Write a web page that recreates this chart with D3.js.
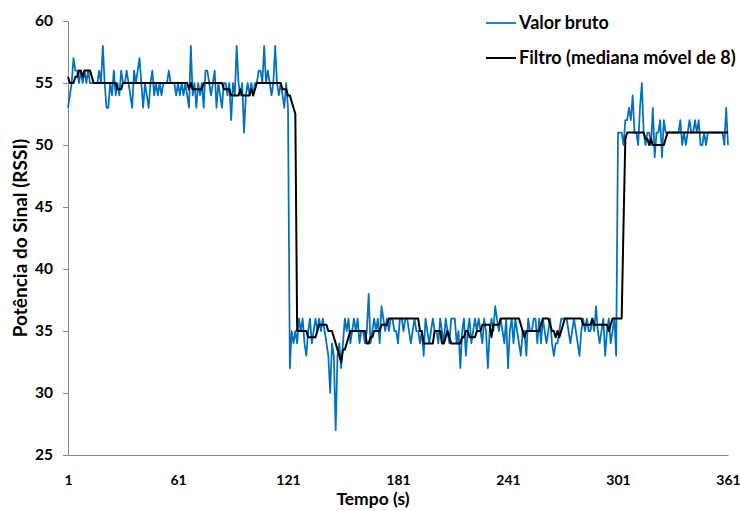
<!DOCTYPE html>
<meta charset="utf-8">
<title>Potência do Sinal (RSSI)</title>
<style>
body { margin: 0; background: #fff; }
svg text { font-family: Lato, "Open Sans", sans-serif; font-weight: bold; fill: #000; }
</style>
<body>
<script src="https://d3js.org/d3.v7.min.js"></script>
<script>

var width = 740,
    height = 511;

// x ticks (Tempo) and y ticks (RSSI)
var xTicks = [1, 61, 121, 181, 241, 301, 361];
var yTicks = [25, 30, 35, 40, 45, 50, 55, 60];

// raw signal, one value per second (1..361)
var valorBruto = [
  53,54,55,57,56,56,55,56,55,56, 55,56,55,55,55,55,55,56,55,58,
  55,53,53,55,54,56,54,55,54,56, 55,55,56,55,54,53,56,55,56,57,
  55,53,55,54,53,55,56,54,55,54, 55,54,55,55,55,56,55,55,55,54,
  55,54,55,54,55,54,53,58,54,55, 53,55,54,55,53,56,56,55,54,55,
  56,53,55,54,53,55,55,54,55,52, 55,54,58,55,54,55,51,54,55,54,
  55,54,55,55,56,56,55,58,55,56, 55,54,55,58,55,54,55,54,53,55,
  53,
  32,35,34,35,34,36,35,36,34,33, 35,36,34,35,36,35,36,35,36,35,
  34,33,30,34,33,27,33,34,32,34, 36,35,36,34,35,36,35,36,34,35,
  35,34,35,38,
  34,35,36,35,36,34,37,36,35,36, 35,36,36,35,35,34,36,36,35,36,
  36,35,34,35,36,35,35,34,35,33, 36,35,34,35,36,35,35,34,36,35,
  34,36,35,34,36,
  36,36,34,35,32,35,36,33,35,36, 34,35,36,35,36,35,34,36,35,32,
  35,36,35,37,36,35,36,35,34,36, 32,35,36,34,36,35,34,33,35,35,
  33,36,35,35,36,
  36,34,36,34,36,35,34,35,36,34, 33,34,34,35,36,36,36,36,35,34,
  35,36,35,34,33,35,36,35,36,35, 35,36,35,37,35,34,35,36,33,35,
  36,34,35,36,33,
  51,51,51,50,52,52,53,52,54,51, 51,50,53,55,51,50,51,51,50,53,
  49,51,51,52,49,52,51,51,51,51, 51,51,51,51,52,50,51,50,51,52,
  51,51,52,51,52,50,50,51,50,51, 51,51,51,51,51,51,51,51,50,53,
  50
];

// filtered signal (mediana móvel de 8)
var filtro = [
  55.5,55,55,55,55.5,55.5,56,56,55.5,56, 56,56,56,55.5,55,55,55,55,55,55,
  55,55,55,55,55,55,55,54.5,54.5,54.5, 55,55,55,55,55,55,55,55,55,55,
  55,55,55,55,55,55,55,55,55,55, 55,55,55,55,55,55,55,55,55,55,
  55,55,55,55,55,55,54.5,55,54.5,54.5, 54.5,54.5,54.5,54.5,55,55,55,55,55,55,
  55,55,55,55,55,54.5,54.5,54.5,54.5,54, 54,54,54,54,54.5,54,54,54,54,54,
  54.5,54,54.5,55,55,55,55,55,55,55, 55,55,55,55,55,55,55,54.5,54.5,54.5,
  54,54,53.5,53,52.5,
  35,35,35,35,35,35,34.5,34.5,34.5,34.5, 34.5,35,35.5,35.5,35.5,35.5,35.5,35,35,35,
  34.5,34,33.5,33,32.5,33.5,33.5,34,34.5,35, 35,35,35,35,35,35,35,35,34,34,
  34.5,34.5,35,35,35,35,35.5,35.5,35.5,35.5, 36,36,36,36,36,36,36,36,36,36,
  36,36,36,36,36,36,36,35,35,34, 34,34,34,34,34,35,35,35,35,34,
  34,34.5,35,34.5,34,
  34,34,34,34,34,34.5,34.5,35,35,34.5, 34.5,34.5,34.5,35,35,35,35.5,35.5,35.5,35.5,
  35.5,34.5,35.5,35.5,35.5,35.5,36,36,36,36, 36,36,36,36,36,36,36,35.5,35,34.5,
  35,35,35,35,35,
  35,35,35,35.5,36,36,36,36,35.5,35, 35,34.5,35,34.5,35,35.5,36,36,36,36,
  36,36,36,36,36,36,35.5,35.5,35.5,35.5, 35.5,36,35.5,35.5,35.5,35.5,35.5,35.5,35.5,35.5,
  35,35.5,36,36,36,36,36,36,
  43.5,50.5,51,51,51,51,51,51,51,51, 51,51,50.5,50.5,50,50.5,50,50,50,50,
  50,50,50,50.5,51,51,51,51,51,51, 51,51,51,51,51,51,51,51,51,51,
  51,51,51,51,51,51,51,51,51,51, 51,51,51,51,51,51,51,51
];

var seriesNames = ["Valor bruto", "Filtro (mediana móvel de 8)"];
var seriesColors = ["#0070c0", "#000000"];

var margin = {left: 68, right: 12, top: 21, bottom: 56};

var x = d3.scaleLinear().domain([1, 361]).range([margin.left, width - margin.right]);
var y = d3.scaleLinear().domain([25, 60]).range([height - margin.bottom, margin.top]);

var svg = d3.select("body").append("svg")
    .attr("width", width)
    .attr("height", height);

// axes
var yAxis = svg.append("g")
    .attr("transform", "translate(" + margin.left + ",0)")
    .call(d3.axisLeft(y).tickValues(yTicks).tickSize(5).tickPadding(10));
yAxis.selectAll("text").style("font-size", "15.5px");

var xAxis = svg.append("g")
    .attr("transform", "translate(0," + y(25) + ")")
    .call(d3.axisBottom(x).tickValues(xTicks).tickSize(0).tickPadding(20));
xAxis.selectAll("text").style("font-size", "14px");

svg.selectAll(".domain, .tick line").attr("stroke", "#868686").attr("stroke-width", 1);

// lines
var line = d3.line()
    .x(function(d, i) { return x(i + 1); })
    .y(function(d) { return y(d); });

svg.append("path")
    .datum(valorBruto)
    .attr("fill", "none")
    .attr("stroke", seriesColors[0])
    .attr("stroke-width", 1.75)
    .attr("stroke-linejoin", "round")
    .attr("d", line);

svg.append("path")
    .datum(filtro)
    .attr("fill", "none")
    .attr("stroke", seriesColors[1])
    .attr("stroke-width", 2)
    .attr("stroke-linejoin", "round")
    .attr("d", line);

// axis titles
svg.append("text")
    .attr("x", 373)
    .attr("y", 505)
    .attr("text-anchor", "middle")
    .style("font-size", "17.5px")
    .text("Tempo (s)");

svg.append("text")
    .attr("transform", "translate(27,238) rotate(-90)")
    .attr("text-anchor", "middle")
    .style("font-size", "19px")
    .text("Potência do Sinal (RSSI)");

// legend
var legend = svg.selectAll(".legend").data(seriesNames)
    .enter().append("g")
    .attr("class", "legend")
    .attr("transform", function(d, i) { return "translate(486," + (23 + i * 35) + ")"; });

legend.append("line")
    .attr("x1", 0).attr("x2", 30)
    .attr("stroke", function(d, i) { return seriesColors[i]; })
    .attr("stroke-width", function(d, i) { return i == 0 ? 1.75 : 2; });

legend.append("text")
    .attr("x", 33)
    .attr("dy", "0.35em")
    .style("font-size", "18px")
    .text(function(d) { return d; });

</script>
